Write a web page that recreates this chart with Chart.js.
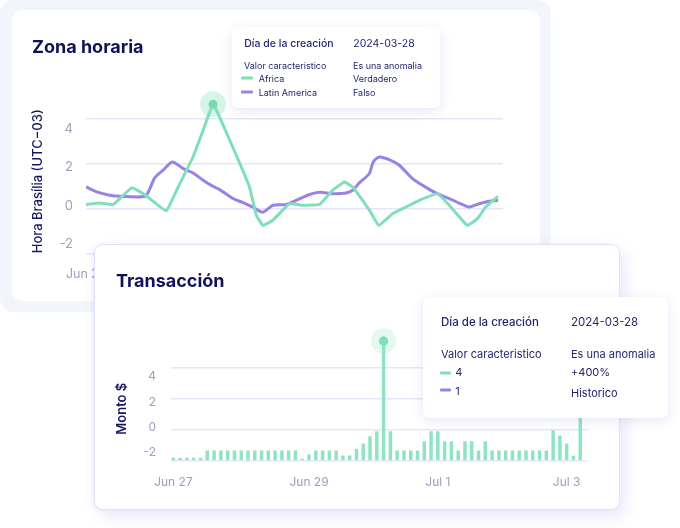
<!DOCTYPE html>
<html>
<head>
<meta charset="utf-8">
<script src="https://cdn.jsdelivr.net/npm/chart.js@4.4.1/dist/chart.umd.min.js"></script>
<style>
html,body{margin:0;padding:0;background:#ffffff;}
body{width:680px;height:528px;position:relative;overflow:hidden;font-family:Inter,"Noto Sans",sans-serif;color:#1c1f66;}
.abs{position:absolute;}
#frame{left:0;top:0;width:551px;height:312px;background:#f3f5fd;border-radius:14px;}
#card1{left:12px;top:10px;width:528px;height:291px;background:#fff;border-radius:10px;}
#card2{left:94px;top:244px;width:524px;height:264px;background:#fff;border:1px solid #e1e2f8;border-radius:9px;box-shadow:5px 7px 16px rgba(118,118,232,0.17),-2px 0 4px rgba(118,118,232,0.08);}
.title{font-size:18px;font-weight:700;color:#0f1259;line-height:18px;white-space:nowrap;}
.tip{background:#fff;border-radius:6px;box-shadow:0 3px 12px rgba(110,110,215,0.18);}
.t{position:absolute;white-space:nowrap;line-height:1;transform:translateY(-50%);color:#23266b;}
.sw{position:absolute;height:3px;border-radius:1px;transform:translateY(-50%);}
</style>
</head>
<body>
<div id="frame" class="abs"></div>
<div id="card1" class="abs"></div>
<canvas id="c1" class="abs" style="left:12px;top:10px" width="528" height="291"></canvas>
<div class="abs title" style="left:32px;top:37.5px">Zona horaria</div>
<div id="tip1" class="abs tip" style="left:232px;top:27px;width:208px;height:81px"></div>
<div id="card2" class="abs"></div>
<canvas id="c2" class="abs" style="left:94px;top:244px" width="526" height="266"></canvas>
<div class="abs title" style="left:116px;top:271.8px">Transacción</div>
<div id="tip2" class="abs tip" style="left:423px;top:297px;width:245px;height:121px;border-radius:7px"></div>
<script>
// ---------- Data: top chart (Zona horaria) ----------
const africaHours = [0,5.1,9.9,16.6,20.8,24.5,29.3,34.2,39.0,42.7,46.3,48.7,52.4,56.6,59.6,62.1,64.5,68.1,74.2,79.0,85.1,89.9,94.2,97.2,103.3,106.7,111.8,116.6,121.5,128.1,132.4,139.0,142.7,145.7,150.2];
const africaValues = [0.18,0.25,0.18,0.93,0.67,0.33,-0.1,1.12,2.31,3.51,4.67,4.1,3.06,1.87,0.97,-0.3,-0.75,-0.52,0.22,0.15,0.19,0.82,1.19,0.97,-0.07,-0.75,-0.22,0.07,0.37,0.67,0.15,-0.75,-0.45,0.07,0.55];
const latamHours = [0,3.9,8.7,12.4,21.5,23.3,25.1,28.1,31.5,35.4,39.0,42.7,45.7,48.7,53.6,57.2,60.8,64.5,68.1,73.0,76.6,81.5,85.1,89.9,94.8,97.2,99.6,103.3,104.7,106.9,110.5,114.2,119.0,122.7,127.5,132.4,136.0,139.6,143.3,146.9,150.2];
const latamValues = [0.97,0.75,0.6,0.55,0.55,0.9,1.39,1.72,2.09,1.79,1.6,1.27,1.04,0.85,0.45,0.27,0.07,-0.16,0.15,0.18,0.37,0.63,0.73,0.67,0.7,0.82,1.15,1.57,2.09,2.31,2.19,1.94,1.34,1.04,0.7,0.45,0.25,0.07,0.22,0.33,0.37];
const topTickHours = [0,48,96,144];
const dateLabels = ['Jun 27','Jun 29','Jul 1','Jul 3'];
const yTickValues = [-2,0,2,4];

// ---------- Data: bottom chart (Transacción) ----------
const barValues = [-1.83,-1.83,-1.83,-1.83,-1.83,
  -1.37,-1.37,-1.37,-1.37,-1.37,-1.37,-1.37,-1.37,-1.37,-1.37,-1.37,-1.37,-1.37,-1.37,
  -1.9,-1.63,-1.37,-1.37,-1.37,-1.37,-1.68,-1.68,-1.25,-0.92,-0.45,-0.13,
  5.7,
  -0.13,-1.37,-1.37,-1.37,-1.37,-0.77,-0.13,-0.13,-0.77,-0.77,-1.37,-0.77,-0.77,-1.37,-0.77,
  -1.37,-1.37,-1.37,-1.37,-1.37,-1.37,-1.37,-1.37,-1.37,
  -0.08,-0.4,-0.92,-1.7,1.5];
const bottomTickIndex = [0,20,39,58];

// ---------- Tooltip texts ----------
const tip1Header = ['Día de la creación','2024-03-28'];
const tip1Cols = ['Valor caracteristico','Es una anomalia'];
const tip1Series = ['Africa','Latin America'];
const tip1Status = ['Verdadero','Falso'];
const tip2Header = ['Día de la creación','2024-03-28'];
const tip2Cols = ['Valor caracteristico','Es una anomalia'];
const tip2Series = ['4','1'];
const tip2Status = ['+400%','Historico'];

const GREEN = '#80dfba';
const PURPLE = '#9a82e4';
const BAR = '#8ee4c2';
const GRID = '#e5e6f9';
const TICK = '#9ba1bc';
const NAVY = '#14175f';

Chart.defaults.font.family = 'Inter, "Noto Sans", sans-serif';
Chart.defaults.animation = false;

function fixedTicks(list){ return function(axis){ axis.ticks = list.map(v=>({value:v})); }; }

// ---------- Top chart ----------
const africaPts = africaHours.map((h,i)=>({x:h,y:africaValues[i]}));
const latamPts = latamHours.map((h,i)=>({x:h,y:latamValues[i]}));
const peakIdx = africaValues.indexOf(Math.max(...africaValues));
const peakPt = [{x:africaHours[peakIdx], y:africaValues[peakIdx]}];

new Chart(document.getElementById('c1'), {
  type:'line',
  data:{datasets:[
    {data:peakPt, showLine:false, pointRadius:4.5, pointBackgroundColor:'#79dab2', pointBorderWidth:0, order:0, clip:false},
    {label:'Africa', data:africaPts, borderColor:GREEN, borderWidth:3, pointRadius:0, tension:0.1, order:1},
    {label:'Latin America', data:latamPts, borderColor:PURPLE, borderWidth:3, pointRadius:0, tension:0.25, order:2},
    {data:peakPt, showLine:false, pointRadius:13, pointBackgroundColor:'rgba(128,223,186,0.32)', pointBorderWidth:0, order:5, clip:false}
  ]},
  options:{
    responsive:false, devicePixelRatio:1,
    layout:{padding:{top:75.7,right:37,left:0,bottom:0}},
    plugins:{legend:{display:false},tooltip:{enabled:false}},
    scales:{
      x:{type:'linear',min:0,max:152,offset:false,grid:{display:false,drawTicks:false},border:{display:false},
         afterBuildTicks:fixedTicks(topTickHours),
         ticks:{callback:v=>dateLabels[topTickHours.indexOf(v)],color:TICK,font:{size:12.5},padding:13.5,maxRotation:0,autoSkip:false},
         afterFit:s=>{s.height=47.7;}},
      y:{position:'left',min:-2,max:5.5,afterBuildTicks:fixedTicks(yTickValues),
         ticks:{display:false},grid:{color:GRID,lineWidth:1.5,drawTicks:false},border:{display:false},
         afterFit:s=>{s.width=0;}},
      yl:{position:'left',min:-2.47,max:6.27,afterBuildTicks:fixedTicks(yTickValues),
         grid:{display:false,drawTicks:false},border:{display:false},
         ticks:{color:TICK,font:{size:13},padding:13},
         title:{display:true,text:'Hora Brasília (UTC−03)',color:NAVY,font:{size:13,weight:'500'},padding:{top:18.5,bottom:0},align:'start'},
         afterFit:s=>{s.width=74;}}
    }
  }
});

// ---------- Bottom chart ----------
const barPts = barValues.map((v,i)=>({x:i,y:v}));
const spikeIdx = barValues.indexOf(Math.max(...barValues));
const spikePt = [{x:spikeIdx, y:barValues[spikeIdx]}];

new Chart(document.getElementById('c2'), {
  type:'bar',
  data:{datasets:[
    {type:'line', data:spikePt, showLine:false, pointRadius:4.6, pointBackgroundColor:'#80deb8', pointBorderWidth:0, order:0, clip:false},
    {data:barPts, backgroundColor:BAR, barThickness:2.8, base:-2, order:1},
    {type:'line', data:spikePt, showLine:false, pointRadius:12.7, pointBackgroundColor:'rgba(128,223,186,0.2)', pointBorderWidth:0, order:5, clip:false}
  ]},
  options:{
    responsive:false, devicePixelRatio:1,
    layout:{padding:{top:84.5,right:32.3,left:0,bottom:0}},
    plugins:{legend:{display:false},tooltip:{enabled:false}},
    scales:{
      x:{type:'linear',min:-0.4,max:61.1,offset:false,grid:{display:false,drawTicks:false,offset:false},border:{display:false},
         afterBuildTicks:fixedTicks(bottomTickIndex),
         ticks:{callback:v=>dateLabels[bottomTickIndex.indexOf(v)],color:TICK,font:{size:12},padding:14.4,maxRotation:0,autoSkip:false},
         afterFit:s=>{s.height=49.3;}},
      y:{position:'left',min:-2,max:6.5,afterBuildTicks:fixedTicks(yTickValues),
         ticks:{display:false},grid:{color:GRID,lineWidth:1.5,drawTicks:false},border:{display:false},
         afterFit:s=>{s.width=0;}},
      yl:{position:'left',min:-2.63,max:7.8,afterBuildTicks:fixedTicks(yTickValues),
         grid:{display:false,drawTicks:false},border:{display:false},
         ticks:{color:TICK,font:{size:12},padding:14.7},
         title:{display:true,text:'\u2003\u2003Monto $',color:NAVY,font:{size:13,weight:'600'},padding:{top:20.6,bottom:0},align:'start'},
         afterFit:s=>{s.width=76.7;}}
    }
  }
});

// ---------- Tooltip boxes (HTML) ----------
function txt(parent, s, x, y, size, weight){
  const e=document.createElement('div'); e.className='t'; e.textContent=s;
  e.style.left=x+'px'; e.style.top=y+'px'; e.style.fontSize=size+'px'; e.style.fontWeight=weight||400;
  parent.appendChild(e);
}
function sw(parent, color, x, y, w){
  const e=document.createElement('div'); e.className='sw';
  e.style.left=x+'px'; e.style.top=y+'px'; e.style.width=w+'px'; e.style.background=color;
  parent.appendChild(e);
}
const t1=document.getElementById('tip1');
txt(t1,tip1Header[0],12.3,16.5,10.5,500); txt(t1,tip1Header[1],121.3,16.5,10.5,400);
txt(t1,tip1Cols[0],12,38,9); txt(t1,tip1Cols[1],121,38,9);
sw(t1,GREEN,9,51,11.7); txt(t1,tip1Series[0],26.7,51.3,9); txt(t1,tip1Status[0],121,51.3,9);
sw(t1,PURPLE,9,65,11.7); txt(t1,tip1Series[1],26.7,65,9); txt(t1,tip1Status[1],121,65,9);

const t2=document.getElementById('tip2');
txt(t2,tip2Header[0],18,25.6,11.5,500); txt(t2,tip2Header[1],148,25.6,11.5,400);
txt(t2,tip2Cols[0],18,57.3,11); txt(t2,tip2Cols[1],148,57.3,11);
sw(t2,GREEN,16.5,75.6,11.5); txt(t2,tip2Series[0],32.3,75.3,11); txt(t2,tip2Status[0],148,75,11);
sw(t2,PURPLE,16.5,93.3,11.5); txt(t2,tip2Series[1],32.3,94,11); txt(t2,tip2Status[1],148,95.6,11);
</script>
</body>
</html>
